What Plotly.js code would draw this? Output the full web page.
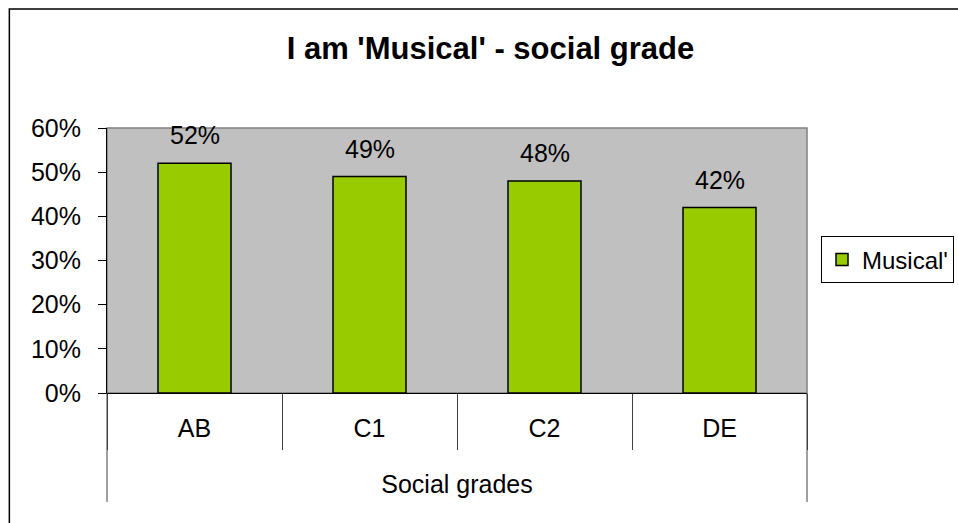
<!DOCTYPE html>
<html>
<head>
<meta charset="utf-8">
<script src="https://cdn.plot.ly/plotly-3.0.1.min.js"></script>
<style>html,body{margin:0;padding:0;background:#fff;}#chart{width:958px;height:523px;}</style>
</head>
<body>
<div id="chart"></div>
<script>
const categories = ['AB', 'C1', 'C2', 'DE'];
const musical = [0.52, 0.49, 0.48, 0.42];
const seriesName = "Musical'";
const titleText = "I am 'Musical' - social grade";
const xTitle = 'Social grades';

const FONT = 'Liberation Sans, Arial, sans-serif';
const FS = 25;

const trace = {
  type: 'bar',
  x: categories,
  y: musical,
  name: seriesName,
  marker: {color: '#99cc00', line: {color: '#000000', width: 1.5}},
  hoverinfo: 'skip'
};

const labelAnnotations = categories.map((c, i) => ({
  x: c, y: musical[i], xref: 'x', yref: 'y',
  text: Math.round(musical[i] * 100) + '%',
  showarrow: false, yshift: 28,
  font: {family: FONT, size: FS, color: '#000'}
}));

const layout = {
  width: 958, height: 523,
  margin: {l: 107, r: 151, t: 128, b: 130, autoexpand: false},
  paper_bgcolor: '#ffffff',
  plot_bgcolor: '#c0c0c0',
  font: {family: FONT, size: FS, color: '#000'},
  title: {text: '<b>' + titleText + '</b>', x: 0.512, xanchor: 'center', y: 0.908, yanchor: 'middle', yref: 'container',
          font: {family: FONT, size: 31, color: '#000'}},
  bargap: 0.583,
  showlegend: true,
  legend: {x: 1.02, xanchor: 'left', y: 0.502, yanchor: 'middle', bordercolor: '#000', borderwidth: 1, bgcolor: '#fff',
           font: {family: FONT, size: 24, color: '#000'}},
  xaxis: {
    type: 'category',
    showgrid: false,
    showline: true, linecolor: '#000', linewidth: 1,
    ticks: 'outside', tickson: 'boundaries', ticklen: 56, tickcolor: '#404040', tickwidth: 1,
    ticklabelstandoff: 13,
    tickfont: {family: FONT, size: FS, color: '#000'},
    title: {text: xTitle, standoff: 34, font: {family: FONT, size: FS, color: '#000'}},
    automargin: false, fixedrange: true
  },
  yaxis: {
    range: [0, 0.6], dtick: 0.1, tickformat: '.0%',
    showgrid: false, zeroline: false,
    showline: true, linecolor: '#000', linewidth: 1,
    ticks: 'outside', ticklen: 8, tickcolor: '#000',
    ticklabelstandoff: 12,
    tickfont: {family: FONT, size: FS, color: '#000'},
    automargin: false, fixedrange: true
  },
  shapes: [
    {type: 'rect', xref: 'paper', yref: 'paper', x0: 0, x1: 1, y0: 0, y1: 1, line: {color: '#808080', width: 1.5}, layer: 'below'},
    {type: 'line', xref: 'paper', yref: 'paper', x0: 0, x1: 0, y0: 0, y1: -0.411, line: {color: '#404040', width: 1}},
    {type: 'line', xref: 'paper', yref: 'paper', x0: 1, x1: 1, y0: 0, y1: -0.411, line: {color: '#404040', width: 1}},
    {type: 'rect', xref: 'paper', yref: 'paper', x0: -0.1395, x1: 2, y0: -1, y1: 1.449, line: {color: '#000', width: 1.5}}
  ],
  annotations: labelAnnotations
};

Plotly.newPlot('chart', [trace], layout, {displayModeBar: false, staticPlot: true});
</script>
</body>
</html>
